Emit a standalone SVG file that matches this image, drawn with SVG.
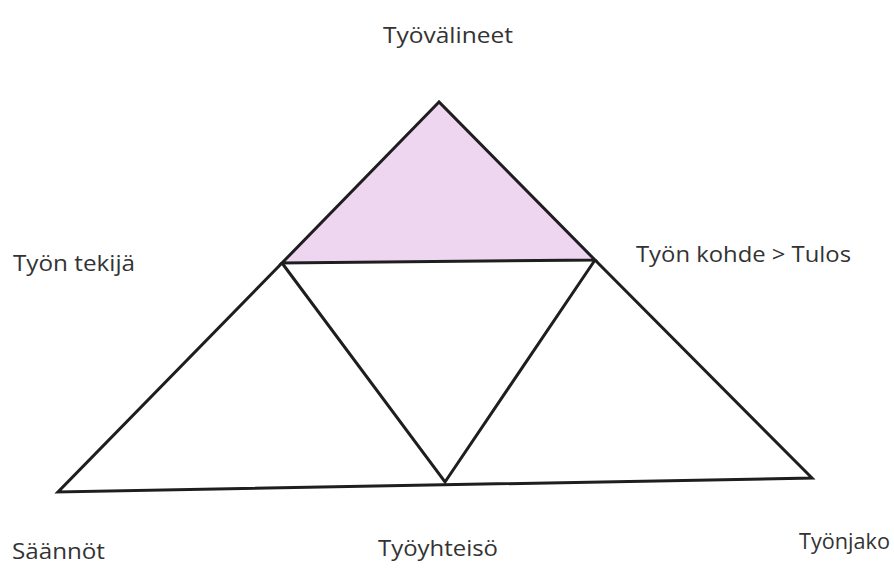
<svg xmlns="http://www.w3.org/2000/svg" width="894" height="578" viewBox="0 0 894 578">
<style>
.ln{fill:none;stroke:#1e1e1e;stroke-width:3;stroke-linejoin:miter}
.tri{fill:#eed6f0;stroke:#1e1e1e;stroke-width:3;stroke-linejoin:miter}
.lb{font-family:"Open Sans","Noto Sans",sans-serif;font-size:21px;fill:#333}
</style>
<rect width="894" height="578" fill="#fff"/>
<g id="connectors">
<polygon id="top-fill" class="tri" points="439,102 282,263 595,260"/>
<polyline class="ln" points="282,263 58,492 812,478 595,260"/>
<polyline class="ln" points="282,263 445,482 595,260"/>
</g>
<g id="n-tyovalineet"><text class="lb" x="383" y="43" textLength="130" lengthAdjust="spacingAndGlyphs">Työvälineet</text></g>
<g id="n-tekija"><text class="lb" x="13" y="271" textLength="122" lengthAdjust="spacingAndGlyphs">Työn tekijä</text></g>
<g id="n-kohde"><text class="lb" x="636" y="262" textLength="215" lengthAdjust="spacingAndGlyphs">Työn kohde &gt; Tulos</text></g>
<g id="n-saannot"><text class="lb" x="12" y="559" textLength="93" lengthAdjust="spacingAndGlyphs">Säännöt</text></g>
<g id="n-tyoyhteiso"><text class="lb" x="378" y="556" textLength="120" lengthAdjust="spacingAndGlyphs">Työyhteisö</text></g>
<g id="n-tyonjako"><text class="lb" x="799" y="549" textLength="91" lengthAdjust="spacingAndGlyphs">Työnjako</text></g>
</svg>
